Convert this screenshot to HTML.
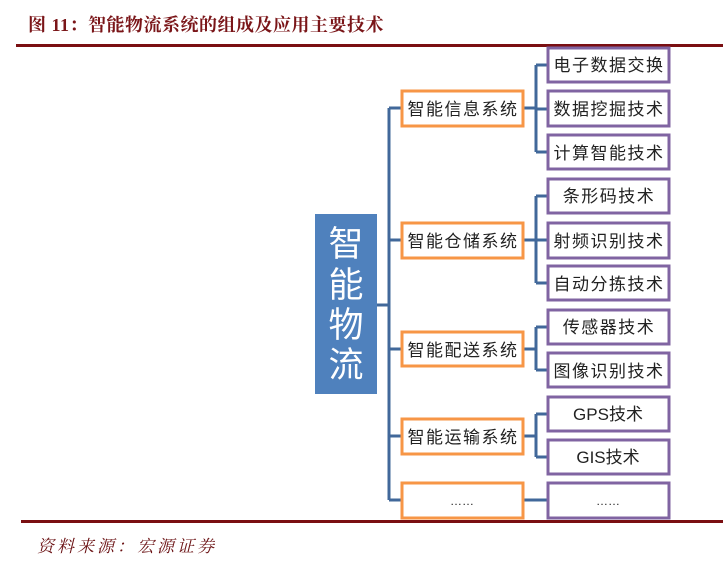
<!DOCTYPE html>
<html><head><meta charset="utf-8"><style>
body{margin:0;background:#fff;width:723px;height:571px;overflow:hidden;position:relative;font-family:"Liberation Serif","Noto Serif CJK SC",serif}
.t{position:absolute;left:28px;top:11px;font-size:18px;font-weight:bold;color:#7a1518;white-space:nowrap;letter-spacing:0.5px}
.s{position:absolute;left:37px;top:532px;font-size:17px;font-style:italic;color:#6b1214;white-space:nowrap;letter-spacing:3px}
svg{position:absolute;left:0;top:0}
svg text{font-family:"Liberation Sans","Noto Sans CJK SC",sans-serif}
</style></head><body>
<div class="t">图 11：智能物流系统的组成及应用主要技术</div>
<div class="s">资料来源：宏源证券</div>
<svg width="723" height="571">
<rect x="16" y="44" width="707" height="3" fill="#7a0f12"/>
<rect x="21" y="520" width="702" height="3" fill="#7a0f12"/>
<rect x="315" y="214" width="62" height="180" fill="#4f81bd"/>
<g fill="#fff" font-size="35" text-anchor="middle">
<text x="346" y="256">智</text><text x="346" y="297">能</text><text x="346" y="337">物</text><text x="346" y="377">流</text>
</g>
<g stroke="#41689a" stroke-width="3" fill="none">
<path d="M377 305H389M389 108V500M389 108H401M389 240H401M389 349H401M389 436H401M389 500H401"/>
<path d="M524 108H536M536 65V152M536 65H547M536 109H547M536 152H547"/>
<path d="M524 240H536M536 196V283M536 196H547M536 240H547M536 283H547"/>
<path d="M524 349H536M536 327V370M536 327H547M536 370H547"/>
<path d="M524 436H536M536 414V457M536 414H547M536 457H547"/>
<path d="M524 500H547"/>
</g>
<g fill="#fff" stroke="#f79646" stroke-width="3">
<rect x="402" y="91" width="121" height="35"/>
<rect x="402" y="223" width="121" height="35"/>
<rect x="402" y="332" width="121" height="34"/>
<rect x="402" y="419" width="121" height="35"/>
<rect x="402" y="483" width="121" height="35"/>
</g>
<g fill="#fff" stroke="#8064a2" stroke-width="3">
<rect x="548" y="48" width="121" height="34"/>
<rect x="548" y="91" width="121" height="35"/>
<rect x="548" y="135" width="121" height="34"/>
<rect x="548" y="179" width="121" height="34"/>
<rect x="548" y="223" width="121" height="35"/>
<rect x="548" y="266" width="121" height="34"/>
<rect x="548" y="310" width="121" height="34"/>
<rect x="548" y="353" width="121" height="34"/>
<rect x="548" y="397" width="121" height="34"/>
<rect x="548" y="440" width="121" height="34"/>
<rect x="548" y="483" width="121" height="35"/>
</g>
<g fill="#222" font-size="17" text-anchor="middle" letter-spacing="1.5">
<text x="463" y="115">智能信息系统</text>
<text x="463" y="247">智能仓储系统</text>
<text x="463" y="356">智能配送系统</text>
<text x="463" y="443">智能运输系统</text>
<text x="462" y="505" font-size="12" letter-spacing="0">……</text>
<text x="609" y="71">电子数据交换</text>
<text x="609" y="115">数据挖掘技术</text>
<text x="609" y="159">计算智能技术</text>
<text x="609" y="202">条形码技术</text>
<text x="609" y="247">射频识别技术</text>
<text x="609" y="290">自动分拣技术</text>
<text x="609" y="333">传感器技术</text>
<text x="609" y="377">图像识别技术</text>
<text x="608" y="420" letter-spacing="0">GPS技术</text>
<text x="608" y="463" letter-spacing="0">GIS技术</text>
<text x="608" y="505" font-size="12" letter-spacing="0">……</text>
</g>
</svg>
</body></html>
